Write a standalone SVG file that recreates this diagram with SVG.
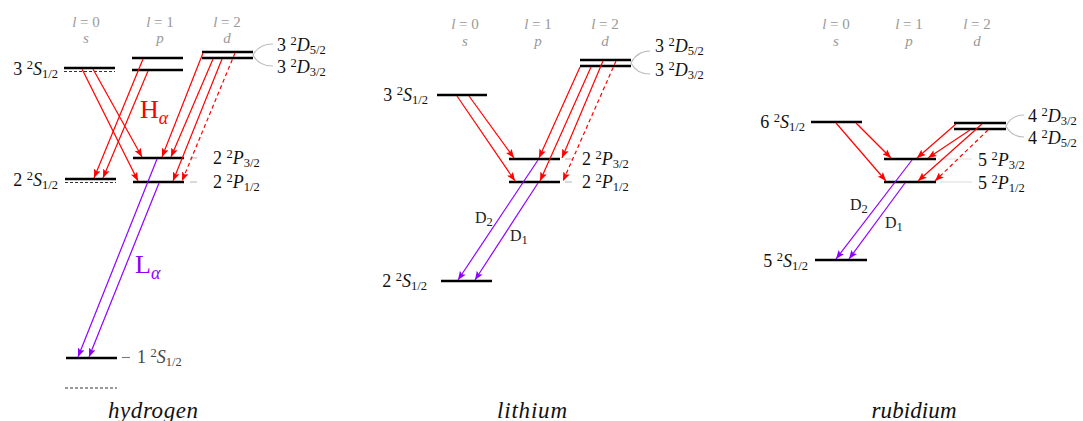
<svg xmlns="http://www.w3.org/2000/svg" width="1083" height="421" viewBox="0 0 1083 421" font-family="'Liberation Serif', 'DejaVu Serif', serif">
<style>
text, tspan{font-family:'Liberation Serif','DejaVu Serif',serif;}
.lvl{stroke:#000;stroke-width:2.3;fill:none}
.dsh{stroke:#333;stroke-width:1.2;stroke-dasharray:3 2;fill:none}
.gr{stroke:#bbb;stroke-width:1.1;fill:none}
.r{stroke:#f00;stroke-width:1.2;fill:none;marker-end:url(#ar)}
.rd{stroke:#f00;stroke-width:1.2;fill:none;stroke-dasharray:4 3;marker-end:url(#ar)}
.p{stroke:#9000ff;stroke-width:1.2;fill:none;marker-end:url(#ap)}
.lbl{font-family:'Liberation Serif',serif;font-size:18px;fill:#111}
.sm{font-size:12.5px}
.it{font-style:italic}
.hd{font-family:'Liberation Serif',serif;font-size:15px;fill:#999;text-anchor:middle}
.ttl{font-family:'Liberation Serif',serif;font-size:23px;font-style:italic;fill:#111;text-anchor:middle}
.dl{font-family:'Liberation Serif',serif;font-size:16px;fill:#222}
.big{font-family:'Liberation Serif',serif;font-size:26px}
</style>
<defs>
<marker id="ar" viewBox="0 0 10 8" refX="10" refY="4" markerWidth="9" markerHeight="7" markerUnits="userSpaceOnUse" orient="auto"><path d="M0,0 L10,4 L0,8 L2,4 z" fill="#f00"/></marker>
<marker id="ap" viewBox="0 0 10 8" refX="10" refY="4" markerWidth="9" markerHeight="7" markerUnits="userSpaceOnUse" orient="auto"><path d="M0,0 L10,4 L0,8 L2,4 z" fill="#9000ff"/></marker>
</defs>

<!-- ================= HYDROGEN ================= -->
<g id="hydrogen-headers">
<text class="hd" x="86" y="27"><tspan class="it">l</tspan> = 0</text>
<text class="hd it" x="86" y="43">s</text>
<text class="hd" x="160" y="27"><tspan class="it">l</tspan> = 1</text>
<text class="hd it" x="160" y="43">p</text>
<text class="hd" x="227" y="27"><tspan class="it">l</tspan> = 2</text>
<text class="hd it" x="227" y="43">d</text>
</g>
<g id="h-3S">
<line class="lvl" x1="64" y1="68" x2="115" y2="68"/>
<line class="dsh" x1="64" y1="71.5" x2="115" y2="71.5"/>
<text class="lbl" x="58" y="75" text-anchor="end">3 <tspan class="sm" dy="-6">2</tspan><tspan class="it" dy="6">S</tspan><tspan class="sm" dy="3">1/2</tspan></text>
</g>
<g id="h-3P">
<line class="lvl" x1="132" y1="58" x2="183" y2="58"/>
<line class="lvl" x1="132" y1="70" x2="183" y2="70"/>
</g>
<g id="h-3D">
<line class="lvl" x1="202" y1="52" x2="253" y2="52"/>
<line class="lvl" x1="202" y1="58" x2="253" y2="58"/>
<path class="gr" d="M273,44 C262,44 256,49 253,55 C256,61 262,66 273,66"/>
<text class="lbl" x="277" y="51">3 <tspan class="sm" dy="-6">2</tspan><tspan class="it" dy="6">D</tspan><tspan class="sm" dy="3">5/2</tspan></text>
<text class="lbl" x="277" y="73">3 <tspan class="sm" dy="-6">2</tspan><tspan class="it" dy="6">D</tspan><tspan class="sm" dy="3">3/2</tspan></text>
</g>
<g id="h-2S">
<line class="lvl" x1="65" y1="179" x2="116" y2="179"/>
<line class="dsh" x1="65" y1="182.5" x2="116" y2="182.5"/>
<text class="lbl" x="58" y="186" text-anchor="end">2 <tspan class="sm" dy="-6">2</tspan><tspan class="it" dy="6">S</tspan><tspan class="sm" dy="3">1/2</tspan></text>
</g>
<g id="h-2P32">
<line class="lvl" x1="133" y1="158" x2="184" y2="158"/>
<line class="gr" x1="190" y1="158" x2="197" y2="158"/>
<text class="lbl" x="213" y="164">2 <tspan class="sm" dy="-6">2</tspan><tspan class="it" dy="6">P</tspan><tspan class="sm" dy="3">3/2</tspan></text>
</g>
<g id="h-2P12">
<line class="lvl" x1="133" y1="182" x2="184" y2="182"/>
<line class="gr" x1="190" y1="182" x2="197" y2="182"/>
<text class="lbl" x="213" y="188">2 <tspan class="sm" dy="-6">2</tspan><tspan class="it" dy="6">P</tspan><tspan class="sm" dy="3">1/2</tspan></text>
</g>
<g id="h-1S">
<line class="lvl" x1="66" y1="358" x2="117" y2="358"/>
<line class="dsh" x1="65" y1="388" x2="117" y2="388"/>
<line class="gr" x1="122" y1="357.5" x2="130" y2="357.5" style="stroke:#777"/>
<text class="lbl" x="137" y="363" style="fill:#444">1 <tspan class="sm" dy="-6">2</tspan><tspan class="it" dy="6">S</tspan><tspan class="sm" dy="3">1/2</tspan></text>
</g>
<g id="h-labels">
<text class="big" x="140" y="118" fill="#f00">H<tspan class="it" style="font-size:18px" dy="6">α</tspan></text>
<text class="big" x="135" y="273" fill="#9000ff">L<tspan class="it" style="font-size:18px" dy="6">α</tspan></text>
<text class="ttl" x="153" y="418" textLength="90">hydrogen</text>
</g>

<!-- ================= LITHIUM ================= -->
<g id="lithium-headers">
<text class="hd" x="465" y="29"><tspan class="it">l</tspan> = 0</text>
<text class="hd it" x="465" y="46">s</text>
<text class="hd" x="538" y="29"><tspan class="it">l</tspan> = 1</text>
<text class="hd it" x="538" y="46">p</text>
<text class="hd" x="605" y="29"><tspan class="it">l</tspan> = 2</text>
<text class="hd it" x="605" y="46">d</text>
</g>
<g id="li-3S">
<line class="lvl" x1="437" y1="95" x2="487" y2="95"/>
<text class="lbl" x="428" y="101" text-anchor="end">3 <tspan class="sm" dy="-6">2</tspan><tspan class="it" dy="6">S</tspan><tspan class="sm" dy="3">1/2</tspan></text>
</g>
<g id="li-3D">
<line class="lvl" x1="580" y1="60" x2="631" y2="60"/>
<line class="lvl" x1="580" y1="66" x2="631" y2="66"/>
<path class="gr" d="M650,51 C640,51 634,57 631,63 C634,69 640,74 650,74"/>
<text class="lbl" x="655" y="52">3 <tspan class="sm" dy="-6">2</tspan><tspan class="it" dy="6">D</tspan><tspan class="sm" dy="3">5/2</tspan></text>
<text class="lbl" x="655" y="76">3 <tspan class="sm" dy="-6">2</tspan><tspan class="it" dy="6">D</tspan><tspan class="sm" dy="3">3/2</tspan></text>
</g>
<g id="li-2P32">
<line class="lvl" x1="509" y1="159" x2="560" y2="159"/>
<line class="gr" x1="565" y1="159" x2="572" y2="159"/>
<text class="lbl" x="582" y="165">2 <tspan class="sm" dy="-6">2</tspan><tspan class="it" dy="6">P</tspan><tspan class="sm" dy="3">3/2</tspan></text>
</g>
<g id="li-2P12">
<line class="lvl" x1="509" y1="182" x2="560" y2="182"/>
<line class="gr" x1="565" y1="182" x2="572" y2="182"/>
<text class="lbl" x="582" y="188">2 <tspan class="sm" dy="-6">2</tspan><tspan class="it" dy="6">P</tspan><tspan class="sm" dy="3">1/2</tspan></text>
</g>
<g id="li-2S">
<line class="lvl" x1="441" y1="281" x2="492" y2="281"/>
<text class="lbl" x="427" y="287" text-anchor="end">2 <tspan class="sm" dy="-6">2</tspan><tspan class="it" dy="6">S</tspan><tspan class="sm" dy="3">1/2</tspan></text>
</g>
<g id="li-labels">
<text class="dl" x="475" y="223">D<tspan class="sm" dy="3">2</tspan></text>
<text class="dl" x="510" y="241">D<tspan class="sm" dy="3">1</tspan></text>
<text class="ttl" x="532" y="418" textLength="70">lithium</text>
</g>

<!-- ================= RUBIDIUM ================= -->
<g id="rubidium-headers">
<text class="hd" x="836" y="29"><tspan class="it">l</tspan> = 0</text>
<text class="hd it" x="836" y="46">s</text>
<text class="hd" x="909" y="29"><tspan class="it">l</tspan> = 1</text>
<text class="hd it" x="909" y="46">p</text>
<text class="hd" x="977" y="29"><tspan class="it">l</tspan> = 2</text>
<text class="hd it" x="977" y="46">d</text>
</g>
<g id="rb-6S">
<line class="lvl" x1="811" y1="122" x2="862" y2="122"/>
<text class="lbl" x="805" y="128" text-anchor="end">6 <tspan class="sm" dy="-6">2</tspan><tspan class="it" dy="6">S</tspan><tspan class="sm" dy="3">1/2</tspan></text>
</g>
<g id="rb-4D">
<line class="lvl" x1="954" y1="123" x2="1006" y2="123"/>
<line class="lvl" x1="954" y1="129" x2="1006" y2="129"/>
<path class="gr" d="M1024,115 C1014,115 1009,120 1006,126 C1009,132 1014,137 1024,137"/>
<text class="lbl" x="1028" y="122">4 <tspan class="sm" dy="-6">2</tspan><tspan class="it" dy="6">D</tspan><tspan class="sm" dy="3">3/2</tspan></text>
<text class="lbl" x="1028" y="144">4 <tspan class="sm" dy="-6">2</tspan><tspan class="it" dy="6">D</tspan><tspan class="sm" dy="3">5/2</tspan></text>
</g>
<g id="rb-5P32">
<line class="lvl" x1="884" y1="159" x2="936" y2="159"/>
<line class="gr" x1="938" y1="159" x2="972" y2="159" style="stroke:#ddd"/>
<text class="lbl" x="978" y="166">5 <tspan class="sm" dy="-6">2</tspan><tspan class="it" dy="6">P</tspan><tspan class="sm" dy="3">3/2</tspan></text>
</g>
<g id="rb-5P12">
<line class="lvl" x1="884" y1="182" x2="936" y2="182"/>
<line class="gr" x1="940" y1="182" x2="972" y2="182" style="stroke:#ddd"/>
<text class="lbl" x="978" y="189">5 <tspan class="sm" dy="-6">2</tspan><tspan class="it" dy="6">P</tspan><tspan class="sm" dy="3">1/2</tspan></text>
</g>
<g id="rb-5S">
<line class="lvl" x1="815" y1="260" x2="867" y2="260"/>
<text class="lbl" x="808" y="267" text-anchor="end">5 <tspan class="sm" dy="-6">2</tspan><tspan class="it" dy="6">S</tspan><tspan class="sm" dy="3">1/2</tspan></text>
</g>
<g id="rb-labels">
<text class="dl" x="850" y="210">D<tspan class="sm" dy="3">2</tspan></text>
<text class="dl" x="885" y="228">D<tspan class="sm" dy="3">1</tspan></text>
<text class="ttl" x="914" y="418" textLength="85">rubidium</text>
</g>

<!-- ================= CONNECTORS ================= -->
<g id="connectors">
<line class="r" x1="82" y1="69" x2="138" y2="181"/>
<line class="r" x1="93" y1="69" x2="142" y2="157"/>
<line class="r" x1="143" y1="59" x2="94" y2="178"/>
<line class="r" x1="148" y1="71" x2="103" y2="178"/>
<line class="r" x1="203" y1="53" x2="162" y2="157"/>
<line class="r" x1="213" y1="59" x2="171" y2="157"/>
<line class="r" x1="222" y1="59" x2="173" y2="181"/>
<line class="rd" x1="235" y1="53" x2="182" y2="181"/>
<line class="p" x1="157" y1="159" x2="78" y2="357"/>
<line class="p" x1="159" y1="183" x2="89" y2="357"/>
<line class="r" x1="457" y1="96" x2="515" y2="181"/>
<line class="r" x1="469" y1="96" x2="514" y2="158"/>
<line class="r" x1="580" y1="67" x2="539" y2="158"/>
<line class="r" x1="591" y1="67" x2="540" y2="181"/>
<line class="r" x1="603" y1="61" x2="562" y2="158"/>
<line class="rd" x1="616" y1="61" x2="563" y2="181"/>
<line class="p" x1="538" y1="160" x2="458" y2="280"/>
<line class="p" x1="538" y1="183" x2="475" y2="280"/>
<line class="r" x1="836" y1="123" x2="886" y2="181"/>
<line class="r" x1="856" y1="123" x2="891" y2="158"/>
<line class="r" x1="956" y1="124" x2="917" y2="158"/>
<line class="r" x1="970" y1="130" x2="928" y2="158"/>
<line class="r" x1="982" y1="124" x2="918" y2="181"/>
<line class="rd" x1="988" y1="130" x2="935" y2="181"/>
<line class="p" x1="912" y1="160" x2="836" y2="259"/>
<line class="p" x1="905" y1="183" x2="849" y2="259"/>
</g>
</svg>
